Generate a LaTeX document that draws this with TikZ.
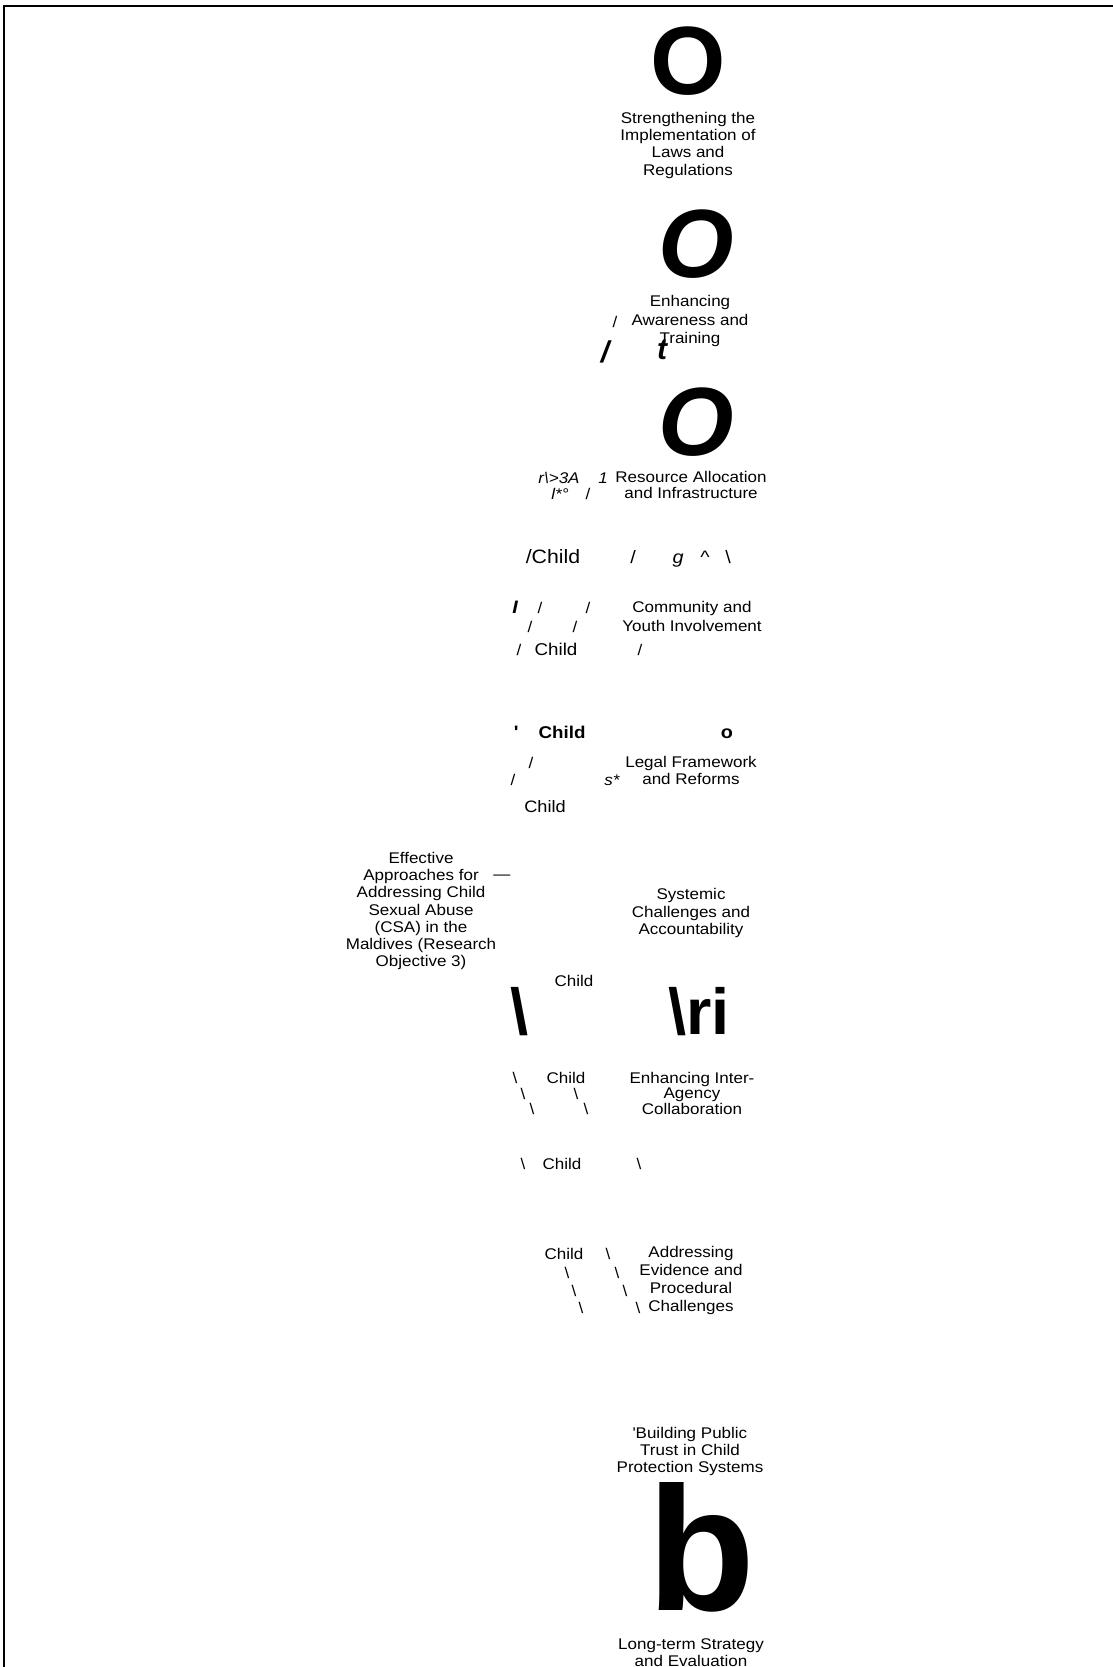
\documentclass[tikz,border=0pt]{standalone}
\usepackage{fontspec}
\setmainfont{Liberation Sans}[FakeStretch=1.1]
\newfontfamily\glyphfont{Liberation Sans}
\usetikzlibrary{positioning}
\newcommand{\bsl}{\textbackslash}
\tikzset{
  lbl/.style={align=center, inner sep=0pt, font=\fontsize{11.6}{13}\selectfont},
  frag/.style={anchor=base, inner sep=0pt, font=\fontsize{11.6}{13}\selectfont},
  fragbig/.style={anchor=base, inner sep=0pt, font=\fontsize{#1}{#1}\selectfont},
  glyph/.style={inner sep=0pt, font=\glyphfont\bfseries\fontsize{#1}{#1}\selectfont},
}

\begin{document}
\begin{tikzpicture}[x=0.75pt, y=-0.75pt]
  \useasboundingbox (0,0) rectangle (1113,1667);
  \draw[line width=0.8pt] (4,1667) -- (4,6) -- (1113,6);

  % big letters
  \node[glyph=72.75] (o1) at (688,61) {O};
  \node[glyph=72.75] (o2) at (696,244) {\itshape O};
  \node[glyph=72.75] (o3) at (696,422) {\itshape O};
  \node[glyph=22.5] (sl1) at (605,352) {\itshape /};
  \node[glyph=22.5] (t1) at (662,350) {\itshape t};
  \node[glyph=48.75] (bs1) at (520,1012) {\bsl};
  \node[glyph=48.75] (ri) at (699,1012) {\bsl ri};
  \node[glyph=132.5] (b1) at (701,1547) {b};

  % labels
  \node[lbl] (l1) at (688,145) {Strengthening the\\Implementation of\\Laws and\\Regulations};
  \node[lbl, font=\fontsize{11.6}{13.9}\selectfont] (l2) at (690,321) {Enhancing\\Awareness and\\Training};
  \node[lbl, font=\fontsize{11.6}{12}\selectfont] (l3) at (691,485) {Resource Allocation\\and Infrastructure};
  \node[lbl, font=\fontsize{11.6}{14.2}\selectfont] (l4) at (692,616) {Community and\\Youth Involvement};
  \node[lbl, font=\fontsize{11.6}{12.75}\selectfont] (l5) at (691,770) {Legal Framework\\and Reforms};
  \node[lbl, font=\fontsize{11.6}{12.9}\selectfont] (l6) at (421,911) {Effective\\Approaches for\\Addressing Child\\Sexual Abuse\\(CSA) in the\\Maldives (Research\\Objective 3)};
  \node[lbl] (l7) at (691,913) {Systemic\\Challenges and\\Accountability};
  \node[lbl, font=\fontsize{11.6}{11.6}\selectfont] (l8) at (692,1093) {Enhancing Inter-\\Agency\\Collaboration};
  \node[lbl, font=\fontsize{11.6}{13.5}\selectfont] (l9) at (691,1280) {Addressing\\Evidence and\\Procedural\\Challenges};
  \node[lbl, font=\fontsize{11.6}{12.75}\selectfont] (l10) at (690,1451) {\textquotesingle Building Public\\Trust in Child\\Protection Systems};
  \node[lbl, font=\fontsize{11.6}{12.75}\selectfont] (l11) at (691,1653) {Long-term Strategy\\and Evaluation};

  % stray fragments
  \node[frag] (f1) at (615,327) {/};
  \node[frag] (f2) at (559,483) {\itshape r\bsl>3A};
  \node[frag] (f3) at (603,483) {\itshape 1};
  \node[frag] (f4) at (560,499) {\itshape l*°};
  \node[frag] (f5) at (588,499) {/};
  \node[fragbig=14.5] (c1) at (553,563) {/Child};
  \node[fragbig=13.5] (f6) at (633,563) {/};
  \node[fragbig=13.5] (f7) at (678,563) {\itshape g};
  \node[fragbig=13.5] (f8) at (705,563) {\textasciicircum};
  \node[fragbig=13.5] (f9) at (728,563) {\bsl};
  \node[fragbig=13.5] (f10) at (515,613) {\bfseries\itshape I};
  \node[frag] (f11) at (540,613) {/};
  \node[frag] (f12) at (588,613) {/};
  \node[frag] (f13) at (530,632) {/};
  \node[frag] (f14) at (575,632) {/};
  \node[frag] (f15) at (519,655) {/};
  \node[fragbig=12.8] (c2) at (556,655) {Child};
  \node[frag] (f16) at (640,655) {/};
  \node[fragbig=13.5] (f17) at (516,738) {\bfseries\textquotesingle};
  \node[fragbig=12.8] (c3) at (562,738) {\bfseries Child};
  \node[fragbig=13.5] (f18) at (727,738) {\bfseries o};
  \node[frag] (f19) at (531,768) {/};
  \node[frag] (f20) at (513,785) {/};
  \node[frag] (f21) at (612,785) {\itshape s*};
  \node[fragbig=12.4] (c4) at (545,812) {Child};
  \node[frag, anchor=center] (f22) at (502,877) {—};
  \node[frag] (c5) at (574,986) {Child};
  \node[frag] (f23) at (515,1083) {\bsl};
  \node[frag] (c6) at (566,1083) {Child};
  \node[frag] (f24) at (523,1099) {\bsl};
  \node[frag] (f25) at (576,1099) {\bsl};
  \node[frag] (f26) at (532,1114) {\bsl};
  \node[frag] (f27) at (586,1114) {\bsl};
  \node[frag] (f28) at (523,1169) {\bsl};
  \node[frag] (c7) at (562,1169) {Child};
  \node[frag] (f29) at (639,1169) {\bsl};
  \node[frag] (c8) at (564,1259) {Child};
  \node[frag] (f30) at (608,1259) {\bsl};
  \node[frag] (f31) at (567,1278) {\bsl};
  \node[frag] (f32) at (617,1278) {\bsl};
  \node[frag] (f33) at (574,1296) {\bsl};
  \node[frag] (f34) at (625,1296) {\bsl};
  \node[frag] (f35) at (581,1313) {\bsl};
  \node[frag] (f36) at (638,1313) {\bsl};
\end{tikzpicture}
\end{document}
